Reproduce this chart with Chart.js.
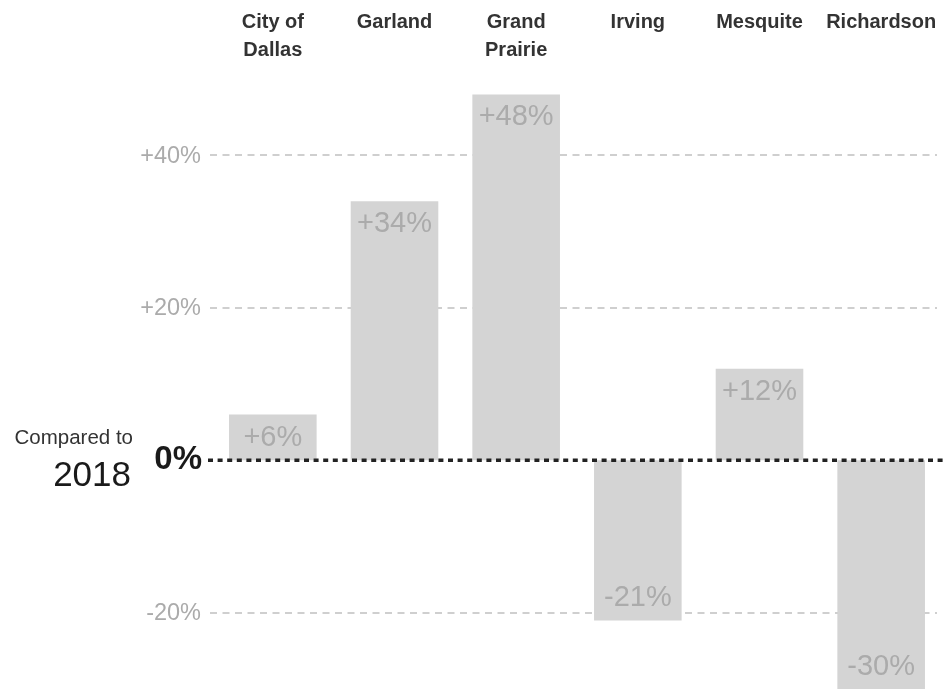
<!DOCTYPE html>
<html>
<head>
<meta charset="utf-8">
<script src="https://cdn.jsdelivr.net/npm/chart.js@4.4.1/dist/chart.umd.min.js"></script>
<style>
  html, body { margin: 0; padding: 0; background: #ffffff; }
  #wrap { width: 944px; height: 689px; position: relative; }
</style>
</head>
<body>
<div id="wrap"><canvas id="chart"></canvas></div>
<script>
// Change in value compared to 2018, by city
const cities = [
  ['City of', 'Dallas'],
  ['Garland'],
  ['Grand', 'Prairie'],
  ['Irving'],
  ['Mesquite'],
  ['Richardson']
];
const changes = [6, 34, 48, -21, 12, -30];
const gridValues = [40, 20, -20];
const gridLabels = ['+40%', '+20%', '-20%'];

const FONT = '"Liberation Sans", Arial, Helvetica, sans-serif';

const fmt = v => (v > 0 ? '+' : '') + v + '%';

// Dashed reference lines and their labels, drawn beneath the bars
const gridPlugin = {
  id: 'gridLines',
  beforeDatasetsDraw(chart) {
    const ctx = chart.ctx;
    const y = chart.scales.y;
    ctx.save();
    ctx.strokeStyle = '#c0c0c0';
    ctx.lineWidth = 1.5;
    ctx.setLineDash([7, 5.5]);
    gridValues.forEach(v => {
      const py = Math.round(y.getPixelForValue(v));
      ctx.beginPath();
      ctx.moveTo(210, py);
      ctx.lineTo(937, py);
      ctx.stroke();
    });
    ctx.setLineDash([]);
    ctx.fillStyle = '#ababab';
    ctx.font = '23.5px ' + FONT;
    ctx.textAlign = 'right';
    ctx.textBaseline = 'middle';
    gridValues.forEach((v, i) => {
      ctx.fillText(gridLabels[i], 201, y.getPixelForValue(v) + 1);
    });
    ctx.restore();
  }
};

// Zero baseline, its label, category names and bar values
const overlayPlugin = {
  id: 'overlay',
  afterDatasetsDraw(chart) {
    const ctx = chart.ctx;
    const y = chart.scales.y;
    const x = chart.scales.x;
    const zero = y.getPixelForValue(0);
    ctx.save();

    // dotted zero line
    ctx.strokeStyle = '#222222';
    ctx.lineWidth = 3.5;
    ctx.setLineDash([5, 4.6]);
    ctx.beginPath();
    ctx.moveTo(208, zero);
    ctx.lineTo(944, zero);
    ctx.stroke();
    ctx.setLineDash([]);

    // 0% label
    ctx.fillStyle = '#1a1a1a';
    ctx.font = 'bold 33px ' + FONT;
    ctx.textAlign = 'right';
    ctx.textBaseline = 'middle';
    ctx.fillText('0%', 202, zero);

    // "Compared to 2018"
    ctx.fillStyle = '#333333';
    ctx.font = '20.5px ' + FONT;
    ctx.fillText('Compared to', 133, zero - 22);
    ctx.fillStyle = '#1a1a1a';
    ctx.font = '35px ' + FONT;
    ctx.fillText('2018', 131, zero + 16);

    // category names along the top
    ctx.fillStyle = '#333333';
    ctx.font = 'bold 20px ' + FONT;
    ctx.textAlign = 'center';
    cities.forEach((lines, i) => {
      const cx = x.getPixelForValue(i);
      lines.forEach((t, j) => ctx.fillText(t, cx, 22 + j * 28));
    });

    // value labels inside the bar ends
    ctx.fillStyle = '#ababab';
    ctx.font = '29px ' + FONT;
    const meta = chart.getDatasetMeta(0);
    meta.data.forEach((bar, i) => {
      const v = changes[i];
      const ty = v >= 0 ? bar.y + 23 : bar.y - 22;
      ctx.fillText(fmt(v), bar.x, ty);
    });

    ctx.restore();
  }
};

new Chart(document.getElementById('chart'), {
  type: 'bar',
  data: {
    labels: cities,
    datasets: [{
      data: changes,
      backgroundColor: '#d4d4d4',
      borderWidth: 0,
      barPercentage: 0.72,
      categoryPercentage: 1.0
    }]
  },
  options: {
    responsive: true,
    maintainAspectRatio: false,
    animation: false,
    layout: { padding: { left: 212, right: 2, top: 3, bottom: 0 } },
    plugins: { legend: { display: false }, tooltip: { enabled: false } },
    scales: {
      x: { display: false },
      y: { display: false, min: -30, max: 60 }
    }
  },
  plugins: [gridPlugin, overlayPlugin]
});
</script>
</body>
</html>
